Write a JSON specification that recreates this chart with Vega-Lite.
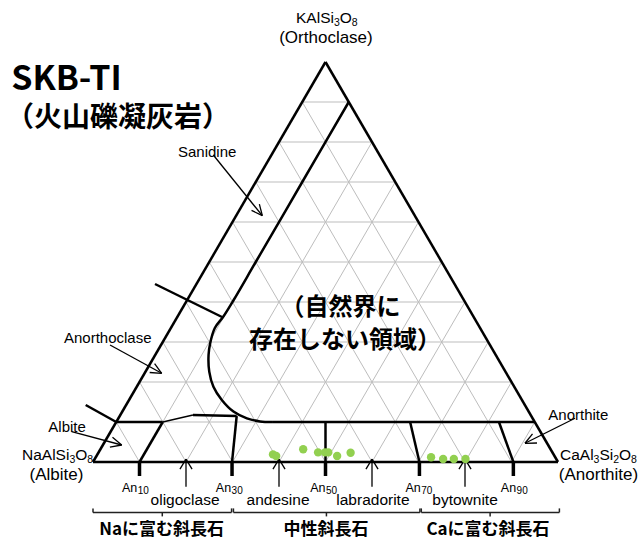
{
  "$schema": "https://vega.github.io/schema/vega-lite/v6.json",
  "width": 641,
  "height": 542,
  "padding": 0,
  "autosize": {"type": "none"},
  "background": "white",
  "config": {"view": {"stroke": null}},
  "datasets": {
    "grid": [
      {"x":5,"y":10,"x2":95,"y2":10},{"x":10,"y":20,"x2":90,"y2":20},{"x":15,"y":30,"x2":85,"y2":30},{"x":20,"y":40,"x2":80,"y2":40},{"x":25,"y":50,"x2":75,"y2":50},{"x":30,"y":60,"x2":70,"y2":60},{"x":35,"y":70,"x2":65,"y2":70},{"x":40,"y":80,"x2":60,"y2":80},{"x":45,"y":90,"x2":55,"y2":90},
      {"x":10,"y":0,"x2":55,"y2":90},{"x":20,"y":0,"x2":60,"y2":80},{"x":30,"y":0,"x2":65,"y2":70},{"x":40,"y":0,"x2":70,"y2":60},{"x":50,"y":0,"x2":75,"y2":50},{"x":60,"y":0,"x2":80,"y2":40},{"x":70,"y":0,"x2":85,"y2":30},{"x":80,"y":0,"x2":90,"y2":20},{"x":90,"y":0,"x2":95,"y2":10},
      {"x":90,"y":0,"x2":45,"y2":90},{"x":80,"y":0,"x2":40,"y2":80},{"x":70,"y":0,"x2":35,"y2":70},{"x":60,"y":0,"x2":30,"y2":60},{"x":50,"y":0,"x2":25,"y2":50},{"x":40,"y":0,"x2":20,"y2":40},{"x":30,"y":0,"x2":15,"y2":30},{"x":20,"y":0,"x2":10,"y2":20},{"x":10,"y":0,"x2":5,"y2":10}
    ],
    "thick": [
      {"x":0,"y":0,"x2":100,"y2":0},{"x":0,"y":0,"x2":50,"y2":100},{"x":100,"y":0,"x2":50,"y2":100},
      {"x":5,"y":10,"x2":15,"y2":10},{"x":10,"y":0,"x2":15,"y2":10},{"x":21.5,"y":11.75,"x2":30.9,"y2":11.5},{"x":29.9,"y":0,"x2":30.9,"y2":11.5},
      {"x":50,"y":0,"x2":50,"y2":10},{"x":70.2,"y":0,"x2":68.2,"y2":10},{"x":90.4,"y":0,"x2":87.3,"y2":10},{"x":38.5,"y":10,"x2":95,"y2":10},
      {"x":13.33,"y":44.5,"x2":27.74,"y2":36.25},{"x":-1.57,"y":14.25,"x2":5,"y2":10}
    ],
    "ticks": [
      {"x":10,"y":0,"x2":10,"y2":-3.5},{"x":29.9,"y":0,"x2":29.9,"y2":-3.5},{"x":50,"y":0,"x2":50,"y2":-3.5},{"x":70.2,"y":0,"x2":70.2,"y2":-3.5},{"x":90.4,"y":0,"x2":90.4,"y2":-3.5}
    ],
    "thin": [
      {"x":15,"y":10,"x2":21.5,"y2":11.75},
      {"x":25.87,"y":76.75,"x2":36.41,"y2":61.58},{"x":36.41,"y":61.58,"x2":35.78,"y2":64.48},{"x":36.41,"y":61.58,"x2":34.09,"y2":62.9},
      {"x":3.66,"y":29.25,"x2":14.77,"y2":22.18},{"x":14.77,"y":22.18,"x2":13.25,"y2":24.6},{"x":14.77,"y":22.18,"x2":12.19,"y2":22.38},
      {"x":-4.58,"y":7.58,"x2":6.17,"y2":4.25},{"x":6.17,"y":4.25,"x2":4.19,"y2":6.18},{"x":6.17,"y":4.25,"x2":3.63,"y2":3.73},
      {"x":103.66,"y":10.93,"x2":92.9,"y2":4.68},{"x":92.9,"y":4.68,"x2":95.48,"y2":4.75},{"x":92.9,"y":4.68,"x2":94.52,"y2":7.03},
      {"x":20,"y":-6.2,"x2":20,"y2":0.7},{"x":20,"y":0.7,"x2":18.7,"y2":-1.8},{"x":20,"y":0.7,"x2":21.3,"y2":-1.8},
      {"x":40,"y":-6.2,"x2":40,"y2":0.7},{"x":40,"y":0.7,"x2":38.7,"y2":-1.8},{"x":40,"y":0.7,"x2":41.3,"y2":-1.8},
      {"x":60,"y":-6.2,"x2":60,"y2":0.7},{"x":60,"y":0.7,"x2":58.7,"y2":-1.8},{"x":60,"y":0.7,"x2":61.3,"y2":-1.8},
      {"x":80,"y":-6.2,"x2":80,"y2":0.7},{"x":80,"y":0.7,"x2":78.7,"y2":-1.8},{"x":80,"y":0.7,"x2":81.3,"y2":-1.8}
    ],
    "brackets": [
      {"x":0,"y":-12.6,"x2":29.8,"y2":-12.6},{"x":0,"y":-12.6,"x2":0,"y2":-11.6},{"x":29.8,"y":-12.6,"x2":29.8,"y2":-11.6},{"x":14.9,"y":-12.6,"x2":14.9,"y2":-13.6},
      {"x":30.2,"y":-12.6,"x2":70.3,"y2":-12.6},{"x":30.2,"y":-12.6,"x2":30.2,"y2":-11.6},{"x":70.3,"y":-12.6,"x2":70.3,"y2":-11.6},{"x":50.2,"y":-12.6,"x2":50.2,"y2":-13.6},
      {"x":70.6,"y":-12.6,"x2":100.3,"y2":-12.6},{"x":70.6,"y":-12.6,"x2":70.6,"y2":-11.6},{"x":100.3,"y":-12.6,"x2":100.3,"y2":-11.6},{"x":85.4,"y":-12.6,"x2":85.4,"y2":-13.6}
    ],
    "curve": [
      {"i":1,"x":55,"y":90},{"i":2,"x":45,"y":70},{"i":3,"x":35,"y":50},{"i":4,"x":30.25,"y":40.5},{"i":5,"x":28.0,"y":36.3},{"i":6,"x":26.2,"y":33.5},{"i":7,"x":25.2,"y":29.7},{"i":8,"x":24.85,"y":26.75},{"i":9,"x":25.0,"y":22.6},{"i":10,"x":25.9,"y":18.8},{"i":11,"x":27.7,"y":15.5},{"i":12,"x":30.2,"y":12.6},{"i":13,"x":33.1,"y":10.9},{"i":14,"x":35.9,"y":10.15},{"i":15,"x":38.5,"y":10}
    ],
    "samples": [
      {"x":38.7,"y":1.9},{"x":39.4,"y":1.5},{"x":45.2,"y":3.2},{"x":48.4,"y":2.4},{"x":49.9,"y":2.4},{"x":50.6,"y":2.4},{"x":52.5,"y":1.5},{"x":55.4,"y":2.3},{"x":72.7,"y":1.2},{"x":75.3,"y":0.75},{"x":77.6,"y":0.75},{"x":80.1,"y":0.75}
    ],
    "formulaMain": [
      {"t":"KAlSi","x":43.66,"y":109.75},{"t":"O","x":53.05,"y":109.75},
      {"t":"NaAlSi","x":-15.27,"y":0.6},{"t":"O","x":-3.83,"y":0.6},
      {"t":"CaAl","x":100.43,"y":0.6},{"t":"Si","x":108.9,"y":0.6},{"t":"O","x":113.12,"y":0.6}
    ],
    "formulaSub": [
      {"t":"3","x":51.81,"y":109.0},{"t":"8","x":55.66,"y":109.0},
      {"t":"3","x":-5.08,"y":-0.15},{"t":"8","x":-1.23,"y":-0.15},
      {"t":"3","x":107.66,"y":-0.15},{"t":"2","x":111.87,"y":-0.15},{"t":"8","x":115.72,"y":-0.15}
    ]
  },
  "layer": [
    {
      "data": {"name": "grid"},
      "mark": {"type": "rule", "color": "#bdbdbd", "strokeWidth": 1},
      "encoding": {
        "x": {"field": "x", "type": "quantitative", "scale": {"domain": [-20, 117.849], "nice": false, "zero": false}, "axis": null},
        "y": {"field": "y", "type": "quantitative", "scale": {"domain": [-20, 115.5], "nice": false, "zero": false}, "axis": null},
        "x2": {"field": "x2"}, "y2": {"field": "y2"}
      }
    },
    {
      "data": {"name": "thick"},
      "mark": {"type": "rule", "color": "#000000", "strokeWidth": 2.5},
      "encoding": {
        "x": {"field": "x", "type": "quantitative", "scale": {"domain": [-20, 117.849], "nice": false, "zero": false}, "axis": null},
        "y": {"field": "y", "type": "quantitative", "scale": {"domain": [-20, 115.5], "nice": false, "zero": false}, "axis": null},
        "x2": {"field": "x2"}, "y2": {"field": "y2"}
      }
    },
    {
      "data": {"name": "ticks"},
      "mark": {"type": "rule", "color": "#000000", "strokeWidth": 3.5},
      "encoding": {
        "x": {"field": "x", "type": "quantitative", "scale": {"domain": [-20, 117.849], "nice": false, "zero": false}, "axis": null},
        "y": {"field": "y", "type": "quantitative", "scale": {"domain": [-20, 115.5], "nice": false, "zero": false}, "axis": null},
        "x2": {"field": "x2"}, "y2": {"field": "y2"}
      }
    },
    {
      "data": {"name": "thin"},
      "mark": {"type": "rule", "color": "#000000", "strokeWidth": 1.3},
      "encoding": {
        "x": {"field": "x", "type": "quantitative", "scale": {"domain": [-20, 117.849], "nice": false, "zero": false}, "axis": null},
        "y": {"field": "y", "type": "quantitative", "scale": {"domain": [-20, 115.5], "nice": false, "zero": false}, "axis": null},
        "x2": {"field": "x2"}, "y2": {"field": "y2"}
      }
    },
    {
      "data": {"name": "brackets"},
      "mark": {"type": "rule", "color": "#222222", "strokeWidth": 1.5},
      "encoding": {
        "x": {"field": "x", "type": "quantitative", "scale": {"domain": [-20, 117.849], "nice": false, "zero": false}, "axis": null},
        "y": {"field": "y", "type": "quantitative", "scale": {"domain": [-20, 115.5], "nice": false, "zero": false}, "axis": null},
        "x2": {"field": "x2"}, "y2": {"field": "y2"}
      }
    },
    {
      "data": {"name": "curve"},
      "mark": {"type": "line", "color": "#000000", "strokeWidth": 2.5, "interpolate": "catmull-rom"},
      "encoding": {
        "x": {"field": "x", "type": "quantitative", "scale": {"domain": [-20, 117.849], "nice": false, "zero": false}, "axis": null},
        "y": {"field": "y", "type": "quantitative", "scale": {"domain": [-20, 115.5], "nice": false, "zero": false}, "axis": null},
        "order": {"field": "i", "type": "quantitative"}
      }
    },
    {
      "data": {"name": "samples"},
      "mark": {"type": "circle", "color": "#92d050", "opacity": 1, "size": 70},
      "encoding": {
        "x": {"field": "x", "type": "quantitative", "scale": {"domain": [-20, 117.849], "nice": false, "zero": false}, "axis": null},
        "y": {"field": "y", "type": "quantitative", "scale": {"domain": [-20, 115.5], "nice": false, "zero": false}, "axis": null}
      }
    },
    {
      "data": {"values": [{"t": "SKB-TI", "x": -17.6, "y": 95.6}]},
      "mark": {"type": "text", "font": "Noto Sans CJK JP", "fontWeight": "bold", "fontSize": 34, "align": "left", "baseline": "middle", "color": "#000"},
      "encoding": {
        "x": {"field": "x", "type": "quantitative", "scale": {"domain": [-20, 117.849], "nice": false, "zero": false}, "axis": null},
        "y": {"field": "y", "type": "quantitative", "scale": {"domain": [-20, 115.5], "nice": false, "zero": false}, "axis": null},
        "text": {"field": "t"}
      }
    },
    {
      "data": {"values": [{"t": "（火山礫凝灰岩）", "x": 5.38, "y": 85.8}]},
      "mark": {"type": "text", "font": "Noto Sans CJK JP", "fontWeight": "bold", "fontSize": 28, "align": "center", "baseline": "middle", "color": "#000"},
      "encoding": {
        "x": {"field": "x", "type": "quantitative", "scale": {"domain": [-20, 117.849], "nice": false, "zero": false}, "axis": null},
        "y": {"field": "y", "type": "quantitative", "scale": {"domain": [-20, 115.5], "nice": false, "zero": false}, "axis": null},
        "text": {"field": "t"}
      }
    },
    {
      "data": {"values": [{"t": "（自然界に", "x": 53.2, "y": 38.4}, {"t": "存在しない領域）", "x": 54.2, "y": 30.2}]},
      "mark": {"type": "text", "font": "Noto Sans CJK JP", "fontWeight": "bold", "fontSize": 24, "align": "center", "baseline": "middle", "color": "#000"},
      "encoding": {
        "x": {"field": "x", "type": "quantitative", "scale": {"domain": [-20, 117.849], "nice": false, "zero": false}, "axis": null},
        "y": {"field": "y", "type": "quantitative", "scale": {"domain": [-20, 115.5], "nice": false, "zero": false}, "axis": null},
        "text": {"field": "t"}
      }
    },
    {
      "data": {"values": [
        {"t": "Sanidine", "x": 18.28, "y": 77.58},
        {"t": "Anorthoclase", "x": -6.24, "y": 30.93},
        {"t": "Albite", "x": -9.61, "y": 8.83},
        {"t": "Anorthite", "x": 97.92, "y": 11.75}
      ]},
      "mark": {"type": "text", "font": "Liberation Sans", "fontSize": 15, "align": "left", "baseline": "middle", "color": "#000"},
      "encoding": {
        "x": {"field": "x", "type": "quantitative", "scale": {"domain": [-20, 117.849], "nice": false, "zero": false}, "axis": null},
        "y": {"field": "y", "type": "quantitative", "scale": {"domain": [-20, 115.5], "nice": false, "zero": false}, "axis": null},
        "text": {"field": "t"}
      }
    },
    {
      "data": {"name": "formulaMain"},
      "mark": {"type": "text", "font": "Liberation Sans", "fontSize": 15.5, "align": "left", "baseline": "alphabetic", "color": "#000"},
      "encoding": {
        "x": {"field": "x", "type": "quantitative", "scale": {"domain": [-20, 117.849], "nice": false, "zero": false}, "axis": null},
        "y": {"field": "y", "type": "quantitative", "scale": {"domain": [-20, 115.5], "nice": false, "zero": false}, "axis": null},
        "text": {"field": "t"}
      }
    },
    {
      "data": {"name": "formulaSub"},
      "mark": {"type": "text", "font": "Liberation Sans", "fontSize": 10.5, "align": "left", "baseline": "alphabetic", "color": "#000"},
      "encoding": {
        "x": {"field": "x", "type": "quantitative", "scale": {"domain": [-20, 117.849], "nice": false, "zero": false}, "axis": null},
        "y": {"field": "y", "type": "quantitative", "scale": {"domain": [-20, 115.5], "nice": false, "zero": false}, "axis": null},
        "text": {"field": "t"}
      }
    },
    {
      "data": {"values": [
        {"t": "(Orthoclase)", "x": 50.1, "y": 104.75},
        {"t": "(Albite)", "x": -7.85, "y": -4.5},
        {"t": "(Anorthite)", "x": 108.71, "y": -4.5}
      ]},
      "mark": {"type": "text", "font": "Liberation Sans", "fontSize": 17, "align": "center", "baseline": "alphabetic", "color": "#000"},
      "encoding": {
        "x": {"field": "x", "type": "quantitative", "scale": {"domain": [-20, 117.849], "nice": false, "zero": false}, "axis": null},
        "y": {"field": "y", "type": "quantitative", "scale": {"domain": [-20, 115.5], "nice": false, "zero": false}, "axis": null},
        "text": {"field": "t"}
      }
    },
    {
      "data": {"values": [
        {"t": "An", "x": 9.5, "y": -7.5},{"t": "An", "x": 29.7, "y": -7.5},{"t": "An", "x": 50, "y": -7.5},{"t": "An", "x": 70.5, "y": -7.5},{"t": "An", "x": 91, "y": -7.5}
      ]},
      "mark": {"type": "text", "font": "Liberation Sans", "fontSize": 12.5, "align": "right", "baseline": "alphabetic", "color": "#000"},
      "encoding": {
        "x": {"field": "x", "type": "quantitative", "scale": {"domain": [-20, 117.849], "nice": false, "zero": false}, "axis": null},
        "y": {"field": "y", "type": "quantitative", "scale": {"domain": [-20, 115.5], "nice": false, "zero": false}, "axis": null},
        "text": {"field": "t"}
      }
    },
    {
      "data": {"values": [
        {"t": "10", "x": 9.6, "y": -8.1},{"t": "30", "x": 29.8, "y": -8.1},{"t": "50", "x": 50.1, "y": -8.1},{"t": "70", "x": 70.6, "y": -8.1},{"t": "90", "x": 91.1, "y": -8.1}
      ]},
      "mark": {"type": "text", "font": "Liberation Sans", "fontSize": 10, "align": "left", "baseline": "alphabetic", "color": "#000"},
      "encoding": {
        "x": {"field": "x", "type": "quantitative", "scale": {"domain": [-20, 117.849], "nice": false, "zero": false}, "axis": null},
        "y": {"field": "y", "type": "quantitative", "scale": {"domain": [-20, 115.5], "nice": false, "zero": false}, "axis": null},
        "text": {"field": "t"}
      }
    },
    {
      "data": {"values": [
        {"t": "oligoclase", "x": 19.8, "y": -9.6},{"t": "andesine", "x": 39.8, "y": -9.6},{"t": "labradorite", "x": 60.2, "y": -9.6},{"t": "bytownite", "x": 80, "y": -9.6}
      ]},
      "mark": {"type": "text", "font": "Liberation Sans", "fontSize": 15.5, "align": "center", "baseline": "middle", "color": "#000"},
      "encoding": {
        "x": {"field": "x", "type": "quantitative", "scale": {"domain": [-20, 117.849], "nice": false, "zero": false}, "axis": null},
        "y": {"field": "y", "type": "quantitative", "scale": {"domain": [-20, 115.5], "nice": false, "zero": false}, "axis": null},
        "text": {"field": "t"}
      }
    },
    {
      "data": {"values": [
        {"t": "Naに富む斜長石", "x": 14.77, "y": -17},{"t": "中性斜長石", "x": 50.1, "y": -17},{"t": "Caに富む斜長石", "x": 84.95, "y": -17}
      ]},
      "mark": {"type": "text", "font": "Noto Sans CJK JP", "fontWeight": "bold", "fontSize": 17, "align": "center", "baseline": "middle", "color": "#000"},
      "encoding": {
        "x": {"field": "x", "type": "quantitative", "scale": {"domain": [-20, 117.849], "nice": false, "zero": false}, "axis": null},
        "y": {"field": "y", "type": "quantitative", "scale": {"domain": [-20, 115.5], "nice": false, "zero": false}, "axis": null},
        "text": {"field": "t"}
      }
    }
  ]
}
